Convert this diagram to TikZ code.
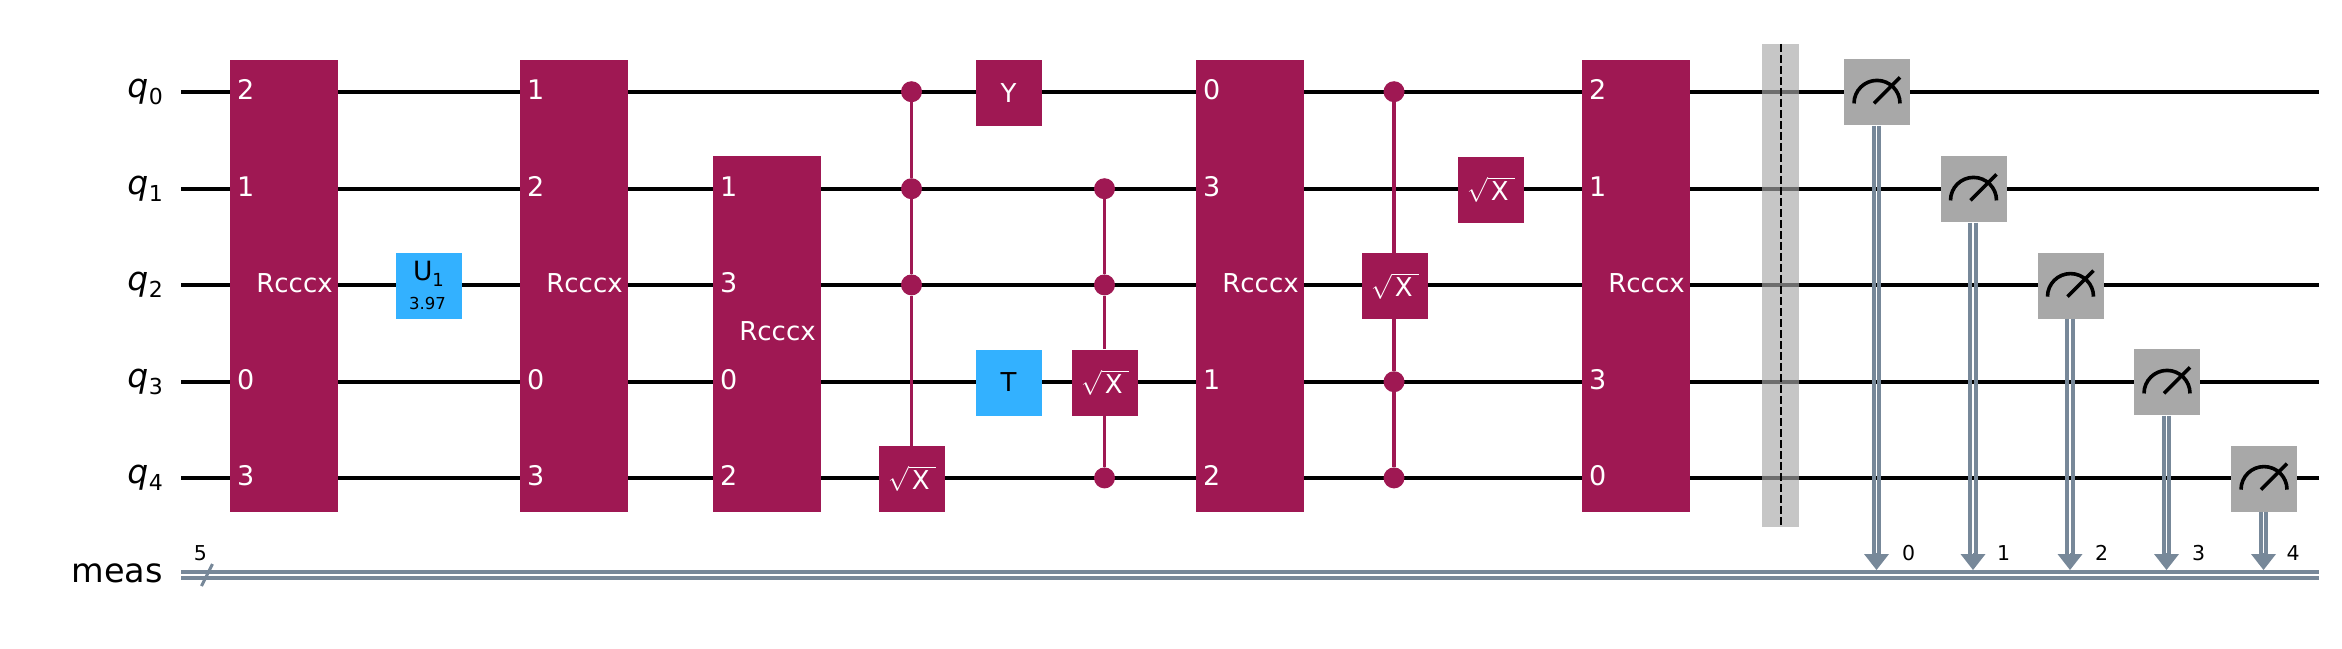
\documentclass[tikz,border=0pt]{standalone}
\usepackage{fontspec}
\setmainfont{DejaVu Sans}
\usetikzlibrary{arrows.meta}
\definecolor{gatered}{HTML}{9F1853}
\definecolor{gateblue}{HTML}{33B1FF}
\definecolor{metergray}{HTML}{A8A8A8}
\definecolor{clgray}{HTML}{778899}
\newcommand{\lowtxt}[2]{\raisebox{-.22em}{\fontsize{#1}{#1}\selectfont #2}}
\newcommand{\sqx}{$\sqrt{\mbox{\kern3pt X\kern6pt}}$}
\begin{document}
\begin{tikzpicture}[
        x                = 1pt,
        y                = -1pt,
        wire/.style      = {line width=3.8pt, black},
        cline/.style     = {line width=3.9pt, clgray},
        ctrl/.style      = {line width=3.6pt, gatered},
        ctip/.style      = {line width=1pt, clgray, -{Triangle[width=25pt, length=16pt, line width=0pt]}},
        dot/.style       = {circle, fill=gatered, inner sep=0pt, minimum size=21pt},
        gate/.style      = {fill=gatered, text=white, inner sep=0pt, minimum width=66pt, minimum height=66pt, font=\fontsize{26}{30}\selectfont},
        bluegate/.style  = {gate, fill=gateblue, text=black},
        block/.style     = {gate, minimum width=108pt},
        meter/.style     = {gate, fill=metergray},
        needle/.style    = {line width=3.6pt, black},
        pinlabel/.style  = {text=white, inner sep=0pt, anchor=west, font=\fontsize{27}{30}\selectfont},
        blocktxt/.style  = {text=white, inner sep=0pt, font=\fontsize{26}{30}\selectfont},
        reglabel/.style  = {inner sep=0pt, anchor=east, font=\fontsize{33.5}{38}\selectfont},
        bitlabel/.style  = {inner sep=0pt, font=\fontsize{20.5}{24}\selectfont},
        barrier/.style   = {fill=metergray, opacity=.65, inner sep=0pt, minimum width=37pt, minimum height=483pt},
      ]
        \useasboundingbox (0,0) rectangle (2342,648);
        % wires
        \foreach \i/\wy in {0/91.7, 1/188.7, 2/284.9, 3/381.7, 4/477.9} {
            \coordinate (wa\i) at (181,\wy);
            \coordinate (wb\i) at (2319,\wy);
            \draw[wire] (wa\i) -- (wb\i);
            \node[reglabel] (reg\i) at ([xshift=-18pt]wa\i) {\fontsize{33}{38}\selectfont\textit{q}\kern.5pt\lowtxt{22}{\i}};
        }
        \coordinate (cltop) at (181,570);
        \foreach \wy/\nm in {571.9/t, 577.7/b} {
            \coordinate (ca\nm) at (181,\wy);
            \coordinate (cb\nm) at (2319,\wy);
            \draw[cline] (ca\nm) -- (cb\nm);
        }
        \node[reglabel] (regm) at (163,573) {meas};
        \coordinate (slasha) at (201.5,586);
        \coordinate (slashb) at (212.5,564);
        \draw[line width=3pt, clgray] (slasha) -- (slashb);
        \node[bitlabel] (bundle) at (200.5,553) {5};

        % wide gates
        \node[block, minimum height=452pt] (b1) at (284,285.8) {};
        \node[block, minimum height=452pt] (b2) at (574,285.8) {};
        \node[block, minimum height=356pt] (b3) at (767,333.8) {};
        \node[block, minimum height=452pt] (b4) at (1250,285.8) {};
        \node[block, minimum height=452pt] (b5) at (1636,285.8) {};
        \foreach \blk/\wy in {b1/283, b2/283, b3/331, b4/283, b5/283} {
            \node[blocktxt] (t\blk) at ([xshift=10.5pt]\blk.center |- 0,\wy) {Rcccx};
        }
        \foreach \blk/\w/\txt in {b1/0/2, b1/1/1, b1/3/0, b1/4/3,
                                  b2/0/1, b2/1/2, b2/3/0, b2/4/3,
                                  b3/1/1, b3/2/3, b3/3/0, b3/4/2,
                                  b4/0/0, b4/1/3, b4/3/1, b4/4/2,
                                  b5/0/2, b5/1/1, b5/3/3, b5/4/0} {
            \node[pinlabel] (p\blk\w) at ([xshift=7pt, yshift=2pt]\blk.west |- wa\w) {\txt};
        }

        % small gates
        \node[bluegate] (u1) at (429,286) {};
        \node[inner sep=0pt, font=\fontsize{26.5}{30}\selectfont] (ulab) at (428.5,274) {U\lowtxt{18}{1}};
        \node[inner sep=0pt, font=\fontsize{16.5}{20}\selectfont] (uval) at (427.5,303) {3.97};
        \node[gate] (sx1) at (912,478.8) {\sqx};
        \node[gate] (y0) at (1008.5,92.7) {Y};
        \node[bluegate] (t3) at (1008.5,382.5) {T};
        \node[gate] (sx2) at (1105,382.5) {\sqx};
        \node[gate] (sx3) at (1395,286) {\sqx};
        \node[gate] (sx4) at (1491,189.5) {\sqx};

        % controlled gates
        \foreach \nm/\xc/\w in {ca0/911.5/0, ca1/911.5/1, ca2/911.5/2,
                                cb1/1104.5/1, cb2/1104.5/2, cb4/1104.5/4,
                                cc0/1394/0, cc3/1394/3, cc4/1394/4} {
            \node[dot] (\nm) at (\xc,0 |- wa\w) {};
        }
        \draw[ctrl] (ca0) -- (ca1);
        \draw[ctrl] (ca1) -- (ca2);
        \draw[ctrl] (ca2) -- (ca2 |- sx1.north);
        \draw[ctrl] (cb1) -- (cb2);
        \draw[ctrl] (cb2) -- (cb2 |- sx2.north);
        \draw[ctrl] (cb4 |- sx2.south) -- (cb4);
        \draw[ctrl] (cc0) -- (cc0 |- sx3.north);
        \draw[ctrl] (cc3 |- sx3.south) -- (cc3);
        \draw[ctrl] (cc3) -- (cc4);

        % barrier
        \node[barrier] (bar) at (1780.5,285.5) {};
        \draw[line width=2pt, dash pattern=on 7.8pt off 3.2pt] (bar.north) -- (bar.south);

        % measurements
        \foreach \i/\xc/\xl in {0/1877/1908.5, 1/1973.5/2003.5, 2/2070.5/2101.5, 3/2167/2198.5, 4/2264/2293} {
            \node[meter, yshift=-.7pt] (m\i) at (\xc,0 |- wa\i) {};
            \draw[needle] ([shift={(-23,11)}]m\i.center) arc (180:360:23);
            \draw[needle] ([shift={(-3,11)}]m\i.center) -- ([shift={(23,-15)}]m\i.center);
            \coordinate (tip\i) at ([xshift=-.5pt]m\i.center |- cltop);
            \draw[cline] ([xshift=-3.3pt]m\i.south) -- ([xshift=-3.3pt, yshift=14pt]m\i.center |- cltop);
            \draw[cline] ([xshift=2.3pt]m\i.south) -- ([xshift=2.3pt, yshift=14pt]m\i.center |- cltop);
            \draw[ctip] ([yshift=17pt]tip\i) -- (tip\i);
            \node[bitlabel] (bit\i) at (\xl,553) {\i};
        }
\end{tikzpicture}
\end{document}
